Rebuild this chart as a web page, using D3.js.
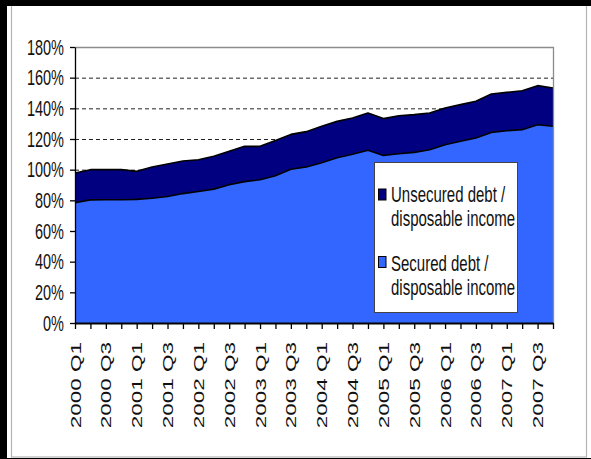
<!DOCTYPE html>
<html>
<head>
<meta charset="utf-8">
<script src="https://cdn.jsdelivr.net/npm/d3@7"></script>
<style>
  html, body { margin: 0; padding: 0; background: #fff; }
  svg { display: block; }
  text { font-family: "Liberation Sans", Arial, sans-serif; fill: #111; }
</style>
</head>
<body>
<svg id="chart" width="591" height="459"></svg>
<script>
// Household debt as a share of disposable income, quarterly
const quarters = [
  "2000 Q1","2000 Q2","2000 Q3","2000 Q4",
  "2001 Q1","2001 Q2","2001 Q3","2001 Q4",
  "2002 Q1","2002 Q2","2002 Q3","2002 Q4",
  "2003 Q1","2003 Q2","2003 Q3","2003 Q4",
  "2004 Q1","2004 Q2","2004 Q3","2004 Q4",
  "2005 Q1","2005 Q2","2005 Q3","2005 Q4",
  "2006 Q1","2006 Q2","2006 Q3","2006 Q4",
  "2007 Q1","2007 Q2","2007 Q3","2007 Q4"
];

// Secured debt / disposable income (%)
const securedDebt = [
  78.4, 80.3, 80.4, 80.4, 80.6, 81.4, 82.5, 84.4,
  85.8, 87.3, 90.2, 92.2, 93.4, 96.0, 100.3, 101.8,
  104.5, 107.8, 110.0, 112.6, 109.3, 110.4, 111.3, 113.0,
  116.3, 118.5, 120.7, 124.3, 125.4, 126.1, 129.3, 128.3
];

// Unsecured debt / disposable income (%)
const unsecuredDebt = [
  19.4, 19.7, 19.6, 19.6, 18.3, 20.3, 21.2, 21.3,
  20.7, 21.4, 21.8, 23.0, 21.8, 23.1, 22.7, 23.0,
  23.8, 23.7, 23.7, 24.4, 24.0, 24.8, 24.6, 24.0,
  23.9, 23.9, 23.9, 25.0, 25.0, 25.4, 25.5, 25.0
];

const yTicks = [0, 20, 40, 60, 80, 100, 120, 140, 160, 180];
const seriesKeys = ["secured", "unsecured"];
const seriesColors = { secured: "#3366ff", unsecured: "#000080" };
const legendItems = [
  { key: "unsecured", lines: ["Unsecured debt /", "disposable income"] },
  { key: "secured",   lines: ["Secured debt /", "disposable income"] }
];

const table = quarters.map((q, i) => ({ q, secured: securedDebt[i], unsecured: unsecuredDebt[i] }));

const svg = d3.select("#chart");
const W = 591, H = 459;
const plot = { left: 75, right: 553, top: 47, bottom: 323 };

const x = d3.scalePoint().domain(quarters).range([plot.left, plot.right]);
const y = d3.scaleLinear().domain([0, 180]).range([plot.bottom, plot.top]);

// page frame
svg.append("rect").attr("x", 0).attr("y", 0).attr("width", W).attr("height", H).attr("fill", "#fff");
svg.append("rect")
  .attr("x", 11.5).attr("y", 0.5).attr("width", 575).attr("height", 456.5)
  .attr("fill", "#fff").attr("stroke", "#b4b4b4").attr("stroke-width", 1.2);
svg.append("rect").attr("x", 0).attr("y", 0).attr("width", W).attr("height", 6).attr("fill", "#000");
svg.append("rect").attr("x", 0).attr("y", 0).attr("width", 7).attr("height", H).attr("fill", "#000");
svg.append("rect").attr("x", 0).attr("y", 458).attr("width", W).attr("height", 1).attr("fill", "#000");

// dashed gridlines
svg.append("g").selectAll("line")
  .data(yTicks.filter(v => v > 0 && v < 180))
  .join("line")
  .attr("x1", plot.left).attr("x2", plot.right)
  .attr("y1", d => y(d) + 0.5).attr("y2", d => y(d) + 0.5)
  .attr("stroke", "#222").attr("stroke-width", 1)
  .attr("stroke-dasharray", "4,3");

// stacked areas
const stacked = d3.stack().keys(seriesKeys)(table);
const area = d3.area()
  .x(d => x(d.data.q))
  .y0(d => y(d[0]))
  .y1(d => y(d[1]));
const topLine = d3.line()
  .x(d => x(d.data.q))
  .y(d => y(d[1]));

svg.append("g").selectAll("path")
  .data(stacked)
  .join("path")
  .attr("d", area)
  .attr("fill", d => seriesColors[d.key]);

svg.append("g").selectAll("path")
  .data(stacked)
  .join("path")
  .attr("d", topLine)
  .attr("fill", "none")
  .attr("stroke", "#000")
  .attr("stroke-width", 1.6)
  .attr("stroke-linejoin", "round");

// plot area border (top and right)
svg.append("path")
  .attr("d", `M${plot.left},${plot.top + 0.5}H${plot.right + 0.5}V${plot.bottom}`)
  .attr("fill", "none").attr("stroke", "#8c8c8c").attr("stroke-width", 1.3);

// y axis
const yAxis = svg.append("g")
  .attr("transform", `translate(${plot.left},0)`)
  .call(d3.axisLeft(y).tickValues(yTicks).tickFormat("").tickSize(5).tickSizeOuter(0));
yAxis.selectAll("path, line").attr("stroke", "#000").attr("stroke-width", 1.3);

svg.append("g").selectAll("text")
  .data(yTicks)
  .join("text")
  .attr("transform", d => `translate(64,${y(d)}) scale(1,1.5)`)
  .attr("text-anchor", "end")
  .attr("dy", "0.35em")
  .attr("font-size", 14.5)
  .text(d => d + "%");

// x axis
const xAxis = svg.append("g")
  .attr("transform", `translate(0,${plot.bottom})`)
  .call(d3.axisBottom(x).tickFormat("").tickSize(6).tickSizeOuter(0));
xAxis.selectAll("path, line").attr("stroke", "#000").attr("stroke-width", 1.3);
xAxis.select("path.domain").attr("stroke-width", 2);

svg.append("g").selectAll("text")
  .data(quarters.filter((q, i) => i % 2 === 0))
  .join("text")
  .attr("transform", d => `translate(${x(d)},342) scale(1,1.45) rotate(-90)`)
  .attr("text-anchor", "end")
  .attr("dy", "0.36em")
  .attr("font-size", 15.5)
  .text(d => d);

// legend
const legend = svg.append("g");
legend.append("rect")
  .attr("x", 374.5).attr("y", 162.5).attr("width", 143).attr("height", 150)
  .attr("fill", "#fff").attr("stroke", "#444").attr("stroke-width", 1);

const markerY = [189, 256.5];
const baselines = [[202, 226], [271, 295]];
legendItems.forEach((item, i) => {
  legend.append("rect")
    .attr("x", 378.5).attr("y", markerY[i]).attr("width", 7.5).attr("height", 11)
    .attr("fill", seriesColors[item.key]).attr("stroke", "#000").attr("stroke-width", 1);
  item.lines.forEach((line, j) => {
    legend.append("text")
      .attr("transform", `translate(391,${baselines[i][j]}) scale(1,1.5)`)
      .attr("font-size", 15)
      .text(line);
  });
});
</script>
</body>
</html>
